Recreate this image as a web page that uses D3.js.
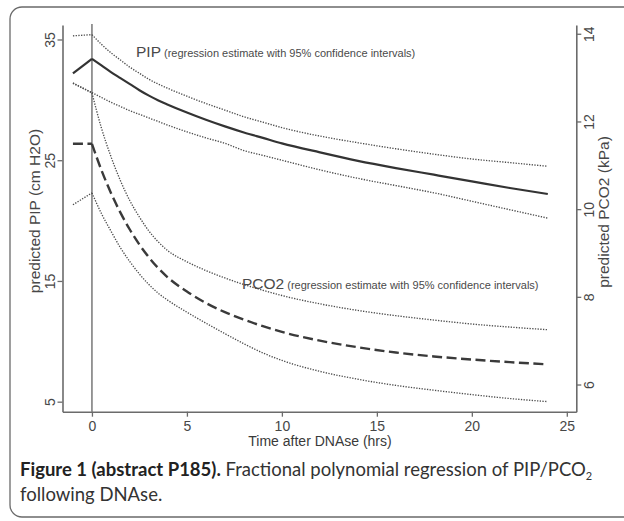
<!DOCTYPE html>
<html><head><meta charset="utf-8">
<script src="https://cdn.jsdelivr.net/npm/d3@7"></script>
<style>body{margin:0;background:#fff} svg{display:block}</style>
</head><body><svg id="c" width="624" height="521"></svg>
<script>
// time after DNAse (hrs)
const hours   = [-1, 0, 0.5, 1, 1.5, 2, 2.5, 3, 3.5, 4, 5, 6, 7, 8, 9, 10, 12, 14, 16, 18, 20, 22, 24];
// predicted PIP (cm H2O) with 95% CI
const pipEst  = [32.2, 33.4, 32.85, 32.3, 31.8, 31.3, 30.8, 30.35, 29.95, 29.6, 28.95, 28.35, 27.8, 27.3, 26.85, 26.4, 25.65, 24.95, 24.35, 23.8, 23.25, 22.7, 22.2];
const pipHi   = [35.3, 35.4, 34.6, 33.9, 33.3, 32.7, 32.2, 31.7, 31.3, 30.95, 30.3, 29.7, 29.15, 28.6, 28.15, 27.7, 27.0, 26.45, 25.95, 25.5, 25.1, 24.8, 24.5];
const pipLo   = [31.4, 30.6, 30.2, 29.8, 29.45, 29.1, 28.8, 28.5, 28.2, 27.9, 27.35, 26.85, 26.4, 25.8, 25.4, 25.0, 24.2, 23.5, 22.9, 22.3, 21.6, 20.9, 20.2];
// predicted PCO2 (kPa) with 95% CI
const pco2Est = [11.49, 11.49, 10.89, 10.37, 9.92, 9.53, 9.19, 8.9, 8.65, 8.44, 8.12, 7.86, 7.65, 7.48, 7.33, 7.2, 7.0, 6.85, 6.73, 6.64, 6.57, 6.51, 6.46];
const pco2Hi  = [12.87, 12.65, 11.85, 11.2, 10.65, 10.19, 9.82, 9.5, 9.25, 9.05, 8.8, 8.6, 8.43, 8.28, 8.15, 8.03, 7.84, 7.69, 7.57, 7.47, 7.38, 7.31, 7.25];
const pco2Lo  = [10.1, 10.37, 9.9, 9.5, 9.12, 8.8, 8.52, 8.28, 8.08, 7.92, 7.65, 7.4, 7.16, 6.93, 6.72, 6.55, 6.3, 6.12, 5.98, 5.87, 5.77, 5.68, 5.61];

const xTicks = [0, 5, 10, 15, 20, 25];
const leftTicks = [5, 15, 25, 35];
const rightTicks = [6, 8, 10, 12, 14];

const svg = d3.select("#c");
const axisColor = "#6b6b6b", textColor = "#474747";

svg.append("rect").attr("x", 10).attr("y", 7).attr("width", 640).attr("height", 510)
  .attr("rx", 12).attr("fill", "none").attr("stroke", "#6a6a6a").attr("stroke-width", 1.3);

const x  = d3.scaleLinear().domain([-1.55, 25.5]).range([62.5, 576.3]);
const yL = d3.scaleLinear().domain([4.17, 36.2]).range([411.7, 25]);
const yR = d3.scaleLinear().domain([5.38, 14.2]).range([411.7, 25]);

function styleAxis(g) {
  g.select(".domain").attr("stroke", axisColor).attr("stroke-width", 1.6);
  g.selectAll(".tick line").attr("stroke", axisColor).attr("stroke-width", 1.3);
  g.selectAll(".tick text").attr("fill", textColor).attr("font-family", "Liberation Sans, Arial, sans-serif").attr("font-size", 14);
}

// vertical line at t = 0
svg.append("line").attr("x1", x(0)).attr("x2", x(0)).attr("y1", 24).attr("y2", 411.7)
  .attr("stroke", "#777").attr("stroke-width", 1.5);

const gL = svg.append("g").attr("transform", `translate(${x.range()[0]},0)`)
  .call(d3.axisLeft(yL).tickValues(leftTicks).tickSize(5).tickSizeOuter(0));
styleAxis(gL);
gL.selectAll(".tick text").attr("x", null).attr("dy", null).attr("text-anchor", "middle")
  .attr("transform", "translate(-8,0) rotate(-90)");

const gR = svg.append("g").attr("transform", `translate(${x.range()[1]},0)`)
  .call(d3.axisRight(yR).tickValues(rightTicks).tickSize(5).tickSizeOuter(0));
styleAxis(gR);
gR.selectAll(".tick text").attr("x", null).attr("dy", null).attr("text-anchor", "middle")
  .attr("transform", "translate(18,0) rotate(-90)");

const gB = svg.append("g").attr("transform", `translate(0,411.7)`)
  .call(d3.axisBottom(x).tickValues(xTicks).tickSize(5).tickSizeOuter(0));
styleAxis(gB);
gB.selectAll(".tick text").attr("y", 9);

// axis titles
const titleFont = "Liberation Sans, Arial, sans-serif";
svg.append("text").attr("transform", "translate(40,211) rotate(-90)").attr("text-anchor", "middle")
  .attr("font-family", titleFont).attr("font-size", 15.5).attr("fill", textColor).text("predicted PIP (cm H2O)");
svg.append("text").attr("transform", "translate(609,212) rotate(-90)").attr("text-anchor", "middle")
  .attr("font-family", titleFont).attr("font-size", 15.5).attr("fill", textColor).text("predicted PCO2 (kPa)");
svg.append("text").attr("x", 320).attr("y", 446).attr("text-anchor", "middle")
  .attr("font-family", titleFont).attr("font-size", 14).attr("fill", "#3a3a3a").text("Time after DNAse (hrs)");

// series
function drawSeries(vals, yScale, stroke, width, dash) {
  const pts = hours.map((h, i) => [h, vals[i]]);
  const pre = pts.filter(p => p[0] <= 0);
  const post = pts.filter(p => p[0] >= 0);
  const lin = d3.line().x(d => x(d[0])).y(d => yScale(d[1])).curve(d3.curveLinear);
  const smooth = d3.line().x(d => x(d[0])).y(d => yScale(d[1])).curve(d3.curveMonotoneX);
  [[pre, lin], [post, smooth]].forEach(([seg, gen]) => {
    svg.append("path").attr("d", gen(seg)).attr("fill", "none").attr("stroke", stroke)
      .attr("stroke-width", width).attr("stroke-dasharray", dash);
  });
}
const dotted = "1.3,1.4";
drawSeries(pipHi, yL, "#4d4d4d", 1.35, dotted);
drawSeries(pipLo, yL, "#4d4d4d", 1.35, dotted);
drawSeries(pco2Hi, yR, "#4d4d4d", 1.35, dotted);
drawSeries(pco2Lo, yR, "#4d4d4d", 1.35, dotted);
drawSeries(pipEst, yL, "#333", 2.2, null);
drawSeries(pco2Est, yR, "#3a3a3a", 2.4, "10,4.5");

// in-plot labels
function label(xp, yp, big, small) {
  const t = svg.append("text").attr("x", xp).attr("y", yp).attr("font-family", titleFont).attr("fill", "#4a4a4a");
  t.append("tspan").attr("font-size", 15.5).text(big);
  t.append("tspan").attr("font-size", 11).attr("dx", 3).text(small);
}
label(136, 57, "PIP", "(regression estimate with 95% confidence intervals)");
label(242, 289, "PCO2", "(regression estimate with 95% confidence intervals)");

// caption
const capFont = "Lato, 'Open Sans', sans-serif";
const cap = svg.append("text").attr("x", 20).attr("y", 476).attr("font-family", capFont).attr("font-size", 18.5).attr("fill", "#333");
cap.append("tspan").attr("font-weight", "bold").attr("fill", "#222").text("Figure 1 (abstract P185).");
cap.append("tspan").text(" Fractional polynomial regression of PIP/PCO");
cap.append("tspan").attr("font-size", 11).attr("dy", 4).text("2");
svg.append("text").attr("x", 20).attr("y", 501).attr("font-family", capFont).attr("font-size", 18.5).attr("fill", "#333")
  .text("following DNAse.");
</script></body></html>
